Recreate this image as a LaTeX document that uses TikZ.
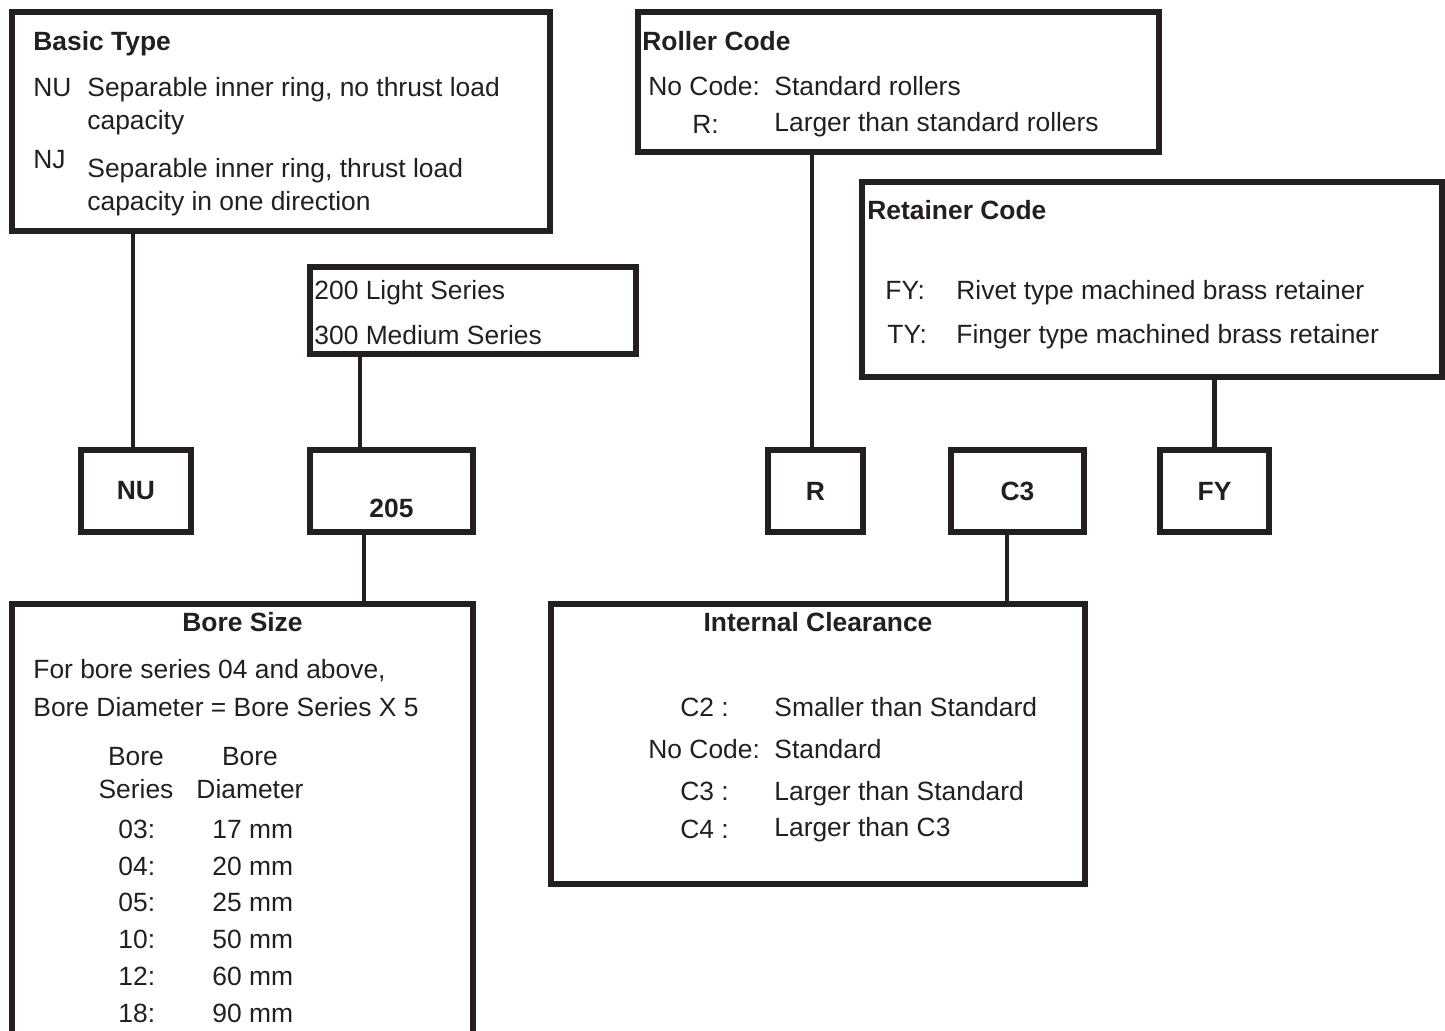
\documentclass[tikz,border=0pt]{standalone}
\usepackage{fontspec}
\setmainfont{Liberation Sans}
\usepackage{tikz}

\definecolor{ink}{RGB}{35,31,32}

\begin{document}
\begin{tikzpicture}[
    font=\fontsize{13.2}{16}\selectfont,
    x=0.5pt, y=-0.5pt,
    box/.style={
        draw=ink,
        line width=3pt,
        inner sep=0pt,
        text=ink,
        font=\fontsize{13.2}{16}\selectfont\bfseries
    },
    link/.style={
        draw=ink,
        line width=2.25pt
    },
    txt/.style={
        anchor=base west,
        inner sep=0pt,
        text=ink
    },
    head/.style={
        txt,
        font=\fontsize{13.2}{16}\selectfont\bfseries
    },
    mid/.style={
        anchor=base,
        inner sep=0pt,
        text=ink
    }
]

% ---------------------------------------------------------
% Canvas
% ---------------------------------------------------------
\path[use as bounding box] (0,0) rectangle (1445,1031);
\clip (0,0) rectangle (1445,1031);

% ---------------------------------------------------------
% Basic type
% ---------------------------------------------------------
\node[box, minimum width=269pt, minimum height=109.5pt]
    (basic) at (281,121.5) {};
\node[head] (basichd) at (33,51) {Basic Type};
\node[txt] (nucode) at (33,97) {NU};
\node[txt] (nutxt) at (87,97) {Separable inner ring, no thrust load};
\node[txt] (nutxtb) at (87,130) {capacity};
\node[txt] (njcode) at (33,169) {NJ};
\node[txt] (njtxt) at (87,178) {Separable inner ring, thrust load};
\node[txt] (njtxtb) at (87,211) {capacity in one direction};

% ---------------------------------------------------------
% Series
% ---------------------------------------------------------
\node[box, minimum width=163pt, minimum height=43.5pt]
    (series) at (473,310.5) {};
\node[txt] (light) at (314,300) {200 Light Series};
\node[txt] (medium) at (314,345) {300 Medium Series};

% ---------------------------------------------------------
% Roller code
% ---------------------------------------------------------
\node[box, minimum width=260.5pt, minimum height=70pt]
    (roller) at (898.5,82) {};
\node[head] (rollerhd) at (642,51) {Roller Code};
\node[txt] (rnocode) at (648,96) {No Code:};
\node[txt] (rstd) at (774,96) {Standard rollers};
\node[txt] (rcode) at (692,134) {R:};
\node[txt] (rlarge) at (774,132) {Larger than standard rollers};

% ---------------------------------------------------------
% Retainer code
% ---------------------------------------------------------
\node[box, minimum width=290pt, minimum height=97.5pt]
    (retainer) at (1152,279.5) {};
\node[head] (retainerhd) at (867,220) {Retainer Code};
\node[txt] (fycode) at (885,300) {FY:};
\node[txt] (fytxt) at (956,300) {Rivet type machined brass retainer};
\node[txt] (tycode) at (887,344) {TY:};
\node[txt] (tytxt) at (956,344) {Finger type machined brass retainer};

% ---------------------------------------------------------
% Designation boxes
% ---------------------------------------------------------
\node[box, minimum width=55pt, minimum height=41pt]
    (nu) at (136,491) {NU};
\node[box, minimum width=81.5pt, minimum height=41pt]
    (num) at (391.5,491) {};
\node[mid, font=\fontsize{13.2}{16}\selectfont\bfseries]
    (numlbl) at (391.5,517) {205};
\node[box, minimum width=47.5pt, minimum height=41pt]
    (r) at (815.5,491) {R};
\node[box, minimum width=66.5pt, minimum height=41pt]
    (c3) at (1017.5,491) {C3};
\node[box, minimum width=54.5pt, minimum height=41pt]
    (fy) at (1214.5,491) {FY};

% ---------------------------------------------------------
% Bore size
% ---------------------------------------------------------
\node[box, minimum width=230.5pt, minimum height=228pt]
    (bore) at (242.5,832) {};
\node[mid, font=\fontsize{13.2}{16}\selectfont\bfseries]
    (borehd) at (242.5,632) {Bore Size};
\node[txt] (borea) at (33,678) {For bore series 04 and above,};
\node[txt] (boreb) at (33,716) {Bore Diameter = Bore Series X 5};
\node[mid] (colsa) at (136,765) {Bore};
\node[mid] (colsb) at (136,798) {Series};
\node[mid] (colda) at (250,765) {Bore};
\node[mid] (coldb) at (250,798) {Diameter};

\node[txt] (sera) at (118,838) {03:};
\node[txt] (diaa) at (212,838) {17 mm};
\node[txt] (serb) at (118,875) {04:};
\node[txt] (diab) at (212,875) {20 mm};
\node[txt] (serc) at (118,911) {05:};
\node[txt] (diac) at (212,911) {25 mm};
\node[txt] (serd) at (118,948) {10:};
\node[txt] (diad) at (212,948) {50 mm};
\node[txt] (sere) at (118,985) {12:};
\node[txt] (diae) at (212,985) {60 mm};
\node[txt] (serf) at (118,1022) {18:};
\node[txt] (diaf) at (212,1022) {90 mm};

% ---------------------------------------------------------
% Internal clearance
% ---------------------------------------------------------
\node[box, minimum width=267pt, minimum height=140pt]
    (clear) at (818,744) {};
\node[mid, font=\fontsize{13.2}{16}\selectfont\bfseries]
    (clearhd) at (818,632) {Internal Clearance};
\node[txt] (ctwo) at (680,716) {C2 :};
\node[txt] (ctwotxt) at (774,716) {Smaller than Standard};
\node[txt] (cnone) at (648,758) {No Code:};
\node[txt] (cnonetxt) at (774,758) {Standard};
\node[txt] (cthree) at (680,800) {C3 :};
\node[txt] (cthreetxt) at (774,800) {Larger than Standard};
\node[txt] (cfour) at (680,838) {C4 :};
\node[txt] (cfourtxt) at (774,836) {Larger than C3};

% ---------------------------------------------------------
% Connectors
% ---------------------------------------------------------
\draw[link] ([xshift=-1.5pt]nu.north) -- ([xshift=-1.5pt]nu.north |- basic.south);
\draw[link] ([xshift=-15.75pt]num.north) -- ([xshift=-15.75pt]num.north |- series.south);
\draw[link] ([xshift=-13.75pt]num.south) -- ([xshift=-13.75pt]num.south |- bore.north);
\draw[link] ([xshift=-1.75pt]r.north) -- ([xshift=-1.75pt]r.north |- roller.south);
\draw[link] (fy.north) -- (fy.north |- retainer.south);
\draw[link] ([xshift=-5.25pt]c3.south) -- ([xshift=-5.25pt]c3.south |- clear.north);

\end{tikzpicture}
\end{document}
